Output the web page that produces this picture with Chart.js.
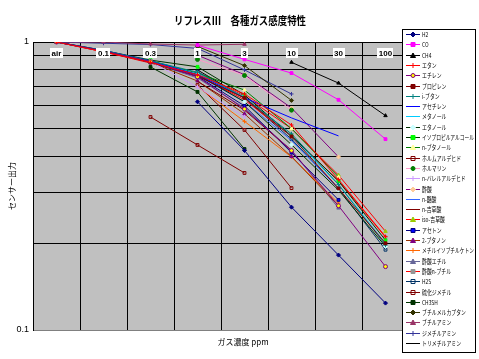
<!DOCTYPE html>
<html>
<head>
<meta charset="utf-8">
<script src="https://cdn.jsdelivr.net/npm/chart.js@4/dist/chart.umd.min.js"></script>
<style>
  html, body { margin: 0; padding: 0; background: #fff; }
</style>
</head>
<body>
<canvas id="grafica" width="479" height="359"></canvas>
<script>
// Concentraciones (eje X de categorías)
const concentraciones = ['air', '0.1', '0.3', '1', '3', '10', '30', '100'];

// Nombres de los gases (leyenda)
const gases = ['H2', 'CO', 'CH4', 'エタン', 'エチレン', 'プロピレン', 'i-ブタン', 'アセチレン',
  'メタノール', 'エタノール', 'イソプロピルアルコール', 'n-ブタノール', 'ホルムアルデヒド', 'ホルマリン',
  'n-バレルアルデヒド', '酢酸', 'n-酪酸', 'n-吉草酸', 'iso-吉草酸', 'アセトン', '2-ブタノン',
  'メチルイソブチルケトン', '酢酸エチル', '酢酸n-ブチル', 'H2S', '硫化ジメチル', 'CH3SH',
  'ブチルメルカプタン', 'ブチルアミン', 'ジメチルアミン', 'トリメチルアミン'];

// Salida del sensor por gas: air, 0.1, 0.3, 1, 3, 10, 30, 100 ppm
const h2 = [null, null, null, 0.62, 0.42, 0.267, 0.182, 0.124];
const co = [null, null, null, 0.975, 0.87, 0.78, 0.63, 0.46];
const ch4 = [null, null, null, null, null, 0.85, 0.72, 0.555];
const ethane = [1, 0.925, 0.85, 0.77, 0.66, 0.515, 0.333, 0.211];
const ethylene = [1, 0.93, 0.855, 0.757, 0.585, 0.42, 0.27, 0.166];
const propylene = [1, 0.93, 0.85, 0.76, 0.64, 0.47, 0.31, 0.2];
const isobutane = [1, 0.935, 0.86, 0.785, 0.64, 0.48, 0.32, 0.197];
const acetylene = [1, 0.935, 0.86, 0.77, 0.64, 0.545, 0.472, null];
const methanol = [1, 0.93, 0.855, 0.775, 0.645, 0.47, 0.32, 0.2];
const ethanol = [1, 0.93, 0.86, 0.77, 0.62, 0.44, 0.306, 0.195];
const ipa = [1, 0.935, 0.865, 0.82, 0.655, 0.472, 0.329, 0.205];
const nButanol = [null, null, 0.859, 0.78, 0.681, 0.5, 0.34, null];
const formaldehyde = [null, null, 0.549, 0.439, 0.351, null, null, null];
const formalin = [null, null, null, 0.87, 0.765, 0.58, null, null];
const nValeraldehyde = [1, 0.93, 0.855, 0.698, 0.55, null, null, null];
const aceticAcid = [null, null, null, 0.9, 0.77, 0.59, 0.399, null];
const nButyricAcid = [1, 0.93, 0.85, 0.765, 0.62, 0.455, 0.31, null];
const nValericAcid = [null, null, null, 0.73, 0.58, 0.42, null, null];
const isoValericAcid = [1, 0.925, 0.85, 0.775, 0.65, 0.5, 0.345, 0.22];
const acetone = [1, 0.93, 0.85, 0.76, 0.6, 0.413, 0.283, null];
const butanone = [1, 0.93, 0.85, 0.732, 0.563, 0.4, 0.27, null];
const mibk = [null, null, null, 0.7, 0.53, 0.399, 0.276, null];
const ethylAcetate = [1, 0.93, 0.85, 0.75, 0.59, 0.42, 0.265, null];
const butylAcetate = [1, 0.925, 0.845, 0.765, 0.63, 0.47, 0.33, 0.21];
const h2s = [null, null, null, 0.789, 0.639, 0.46, 0.31, 0.19];
const dimethylSulfide = [null, null, null, 0.709, 0.495, 0.311, null, null];
const ch3sh = [null, null, 0.819, 0.671, 0.425, null, null, null];
const butylMercaptan = [null, null, null, 0.965, 0.828, 0.627, null, null];
const butylamine = [1, 1, 0.984, 0.976, 0.982, null, null, null];
const dimethylamine = [1, 0.99, 0.98, 0.95, 0.8, 0.66, null, null];
const trimethylamine = [null, null, null, 0.8, 0.64, null, null, null];

const valores = [h2, co, ch4, ethane, ethylene, propylene, isobutane, acetylene, methanol, ethanol,
  ipa, nButanol, formaldehyde, formalin, nValeraldehyde, aceticAcid, nButyricAcid, nValericAcid,
  isoValericAcid, acetone, butanone, mibk, ethylAcetate, butylAcetate, h2s, dimethylSulfide, ch3sh,
  butylMercaptan, butylamine, dimethylamine, trimethylamine];

// Estilos: color de línea, marcador, borde y relleno del marcador
const colorLinea = ['#000080', '#FF00FF', '#000000', '#FF0000', '#800080', '#800000', '#008080', '#0000FF',
  '#00CCFF', '#003300', '#003300', '#008000', '#800000', '#FF99CC', '#CC99FF', '#800080', '#3366FF',
  '#800000', '#FF0000', '#000080', '#993300', '#FF6600', '#666699', '#FF0000', '#003366', '#800000',
  '#003300', '#333300', '#993366', '#333399', '#000000'];
const marcadores = ['rectRot', 'rect', 'triangle', 'cross', 'circle', 'rect', 'cross', false,
  false, 'rectRot', 'rect', 'triangle', 'rect', 'circle', 'cross', 'rectRot', false,
  false, 'triangle', 'rect', 'triangle', 'cross', 'triangle', 'rect', 'rect', 'rect',
  'rect', 'rectRot', 'triangle', 'cross', 'line'];
const bordeMarcador = ['#000080', '#FF00FF', '#000000', '#FF0000', '#800080', '#800000', '#008080', null,
  null, '#CCFFFF', '#00FF00', '#FFFF99', '#800000', '#008000', '#CC99FF', '#FFCC99', null,
  null, '#99CC00', '#000080', '#800080', '#FF6600', '#666699', '#969696', '#003366', '#800000',
  '#003300', '#333300', '#993366', '#333399', '#000000'];
const rellenoMarcador = ['#000080', '#FF00FF', '#000000', '#FF0000', '#FFFF00', '#800000', '#008080', null,
  null, '#CCFFFF', '#00FF00', '#FFFF99', 'rgba(0,0,0,0)', '#008000', '#CC99FF', '#FFCC99', null,
  null, '#99CC00', '#0000FF', '#800080', '#FF6600', '#666699', '#969696', 'rgba(0,0,0,0)', 'rgba(0,0,0,0)',
  '#003300', '#333300', '#993366', '#333399', '#000000'];

const fuenteJP = '"Noto Sans CJK JP", "Noto Sans", sans-serif';

function dibujarMarcador(ctx, estilo, x, y, r, borde, relleno) {
  if (!estilo) return;
  ctx.beginPath();
  if (estilo === 'rect') {
    ctx.rect(x - r, y - r, 2 * r, 2 * r);
  } else if (estilo === 'rectRot') {
    ctx.moveTo(x, y - r - 0.5); ctx.lineTo(x + r + 0.5, y); ctx.lineTo(x, y + r + 0.5); ctx.lineTo(x - r - 0.5, y); ctx.closePath();
  } else if (estilo === 'triangle') {
    ctx.moveTo(x, y - r - 0.5); ctx.lineTo(x + r + 0.5, y + r); ctx.lineTo(x - r - 0.5, y + r); ctx.closePath();
  } else if (estilo === 'circle') {
    ctx.arc(x, y, r, 0, Math.PI * 2);
  } else if (estilo === 'cross') {
    ctx.moveTo(x - r - 0.5, y); ctx.lineTo(x + r + 0.5, y); ctx.moveTo(x, y - r - 0.5); ctx.lineTo(x, y + r + 0.5);
  } else if (estilo === 'line') {
    ctx.moveTo(x - r - 0.5, y); ctx.lineTo(x + r + 0.5, y);
  }
  if (estilo !== 'cross' && estilo !== 'line') {
    ctx.fillStyle = relleno;
    ctx.fill();
  }
  ctx.strokeStyle = borde;
  ctx.lineWidth = 1;
  ctx.stroke();
}

// Fondo gris del área de trazado
const fondoGris = {
  id: 'fondoGris',
  beforeDraw(chart) {
    const { ctx, chartArea: a } = chart;
    ctx.save();
    ctx.fillStyle = '#C0C0C0';
    ctx.fillRect(a.left, a.top, a.right - a.left, a.bottom - a.top);
    ctx.restore();
  }
};

// Textos, etiquetas y leyenda estilo Excel
const decoracion = {
  id: 'decoracion',
  afterDraw(chart) {
    const { ctx, scales } = chart;
    ctx.save();

    // Título
    ctx.fillStyle = '#000';
    ctx.textAlign = 'center';
    ctx.textBaseline = 'middle';
    ctx.font = 'bold 11px ' + fuenteJP;
    ctx.fillText('リフレスIII　各種ガス感度特性', 240, 21, 132);

    // Etiquetas del eje Y
    ctx.font = '9px "Liberation Sans", Arial, sans-serif';
    ctx.textAlign = 'right';
    ctx.fillText('1', 29, scales.y.getPixelForValue(1));
    ctx.fillText('0.1', 29, scales.y.getPixelForValue(0.1));

    // Títulos de ejes
    ctx.font = '8px ' + fuenteJP;
    ctx.textAlign = 'center';
    ctx.fillText('ガス濃度 ppm', 243, 342);
    ctx.save();
    ctx.translate(12, 186);
    ctx.rotate(-Math.PI / 2);
    ctx.fillText('センサー出力', 0, 0);
    ctx.restore();

    // Etiquetas de categorías dentro del área (con fondo blanco)
    ctx.font = 'bold 8px "Liberation Sans", Arial, sans-serif';
    concentraciones.forEach((c, i) => {
      const x = scales.x.getPixelForValue(i);
      const w = ctx.measureText(c).width + 3;
      ctx.fillStyle = '#fff';
      ctx.fillRect(Math.round(x - w / 2), 48, Math.round(w), 10);
      ctx.fillStyle = '#000';
      ctx.fillText(c, x, 53.5);
    });

    // Leyenda
    ctx.fillStyle = '#fff';
    ctx.fillRect(402.5, 29.5, 73, 323);
    ctx.strokeStyle = '#000';
    ctx.lineWidth = 1;
    ctx.strokeRect(402.5, 29.5, 73, 323);
    ctx.font = '6.5px ' + fuenteJP;
    ctx.textAlign = 'left';
    gases.forEach((g, i) => {
      const y = Math.round(34 + i * 10.3) + 0.5;
      ctx.beginPath();
      ctx.moveTo(406, y);
      ctx.lineTo(420, y);
      ctx.strokeStyle = colorLinea[i];
      ctx.lineWidth = 1;
      ctx.stroke();
      dibujarMarcador(ctx, marcadores[i], 413, y, 2, bordeMarcador[i], rellenoMarcador[i]);
      ctx.fillStyle = '#000';
      const ancho = Math.min(ctx.measureText(g).width * 0.75, 52);
      ctx.fillText(g, 422, y, ancho);
    });

    ctx.restore();
  }
};

function dibujarGrafica() {
  const ctx = document.getElementById('grafica').getContext('2d');

  const datasets = gases.map((g, i) => ({
    label: g,
    data: valores[i],
    borderColor: colorLinea[i],
    borderWidth: 1,
    pointStyle: marcadores[i] || 'circle',
    pointRadius: marcadores[i] ? 2 : 0,
    pointBorderColor: bordeMarcador[i] || colorLinea[i],
    pointBackgroundColor: rellenoMarcador[i] || colorLinea[i],
    pointBorderWidth: 1,
    fill: false,
    tension: 0
  }));

  new Chart(ctx, {
    type: 'line',
    data: { labels: concentraciones, datasets: datasets },
    options: {
      responsive: false,
      animation: false,
      layout: { padding: { left: 33, top: 42, right: 70, bottom: 29 } },
      plugins: {
        legend: { display: false },
        title: { display: false },
        tooltip: { enabled: false }
      },
      scales: {
        x: {
          type: 'category',
          offset: true,
          grid: { offset: true, color: '#000', lineWidth: 1, drawTicks: false },
          border: { display: true, color: '#808080' },
          ticks: { display: false }
        },
        y: {
          type: 'logarithmic',
          min: 0.1,
          max: 1,
          afterBuildTicks(axis) {
            axis.ticks = [0.1, 0.2, 0.3, 0.4, 0.5, 0.6, 0.7, 0.8, 0.9, 1].map(v => ({ value: v }));
          },
          grid: { color: '#000', lineWidth: 1, drawTicks: false },
          border: { display: true, color: '#000' },
          ticks: { display: false }
        }
      }
    },
    plugins: [fondoGris, decoracion]
  });
}

window.onload = dibujarGrafica;
</script>
</body>
</html>
